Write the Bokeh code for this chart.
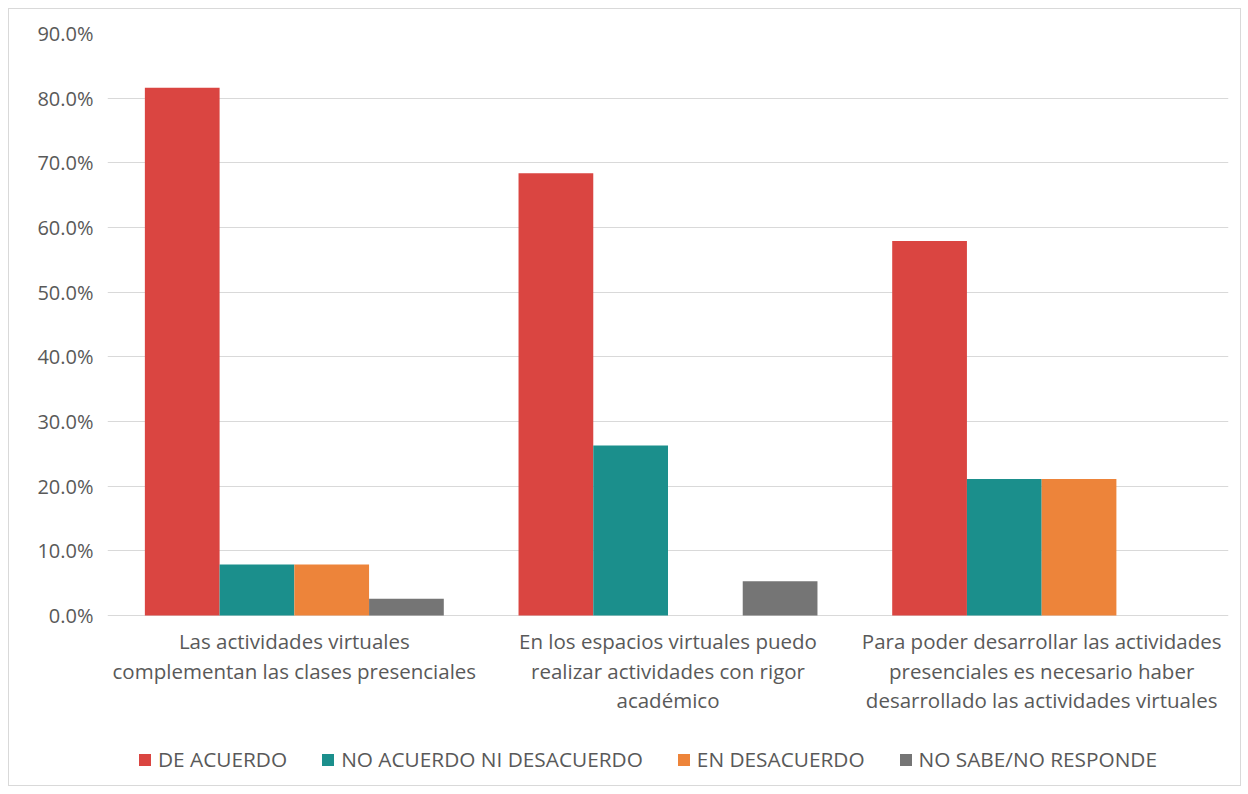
from bokeh.plotting import figure
from bokeh.models import ColumnDataSource, FixedTicker, NumeralTickFormatter, Legend, Range1d
from bokeh.core.properties import value
from bokeh.embed import file_html
from bokeh.resources import INLINE

categories = [
    "Las actividades virtuales\ncomplementan las clases presenciales",
    "En los espacios virtuales puedo\nrealizar actividades con rigor\nacadémico",
    "Para poder desarrollar las actividades\npresenciales es necesario haber\ndesarrollado las actividades virtuales",
]
series = ["DE ACUERDO", "NO ACUERDO NI DESACUERDO", "EN DESACUERDO", "NO SABE/NO RESPONDE"]
de_acuerdo = [0.816, 0.684, 0.579]
ni_acuerdo = [0.079, 0.263, 0.211]
desacuerdo = [0.079, 0.0, 0.211]
no_sabe = [0.026, 0.053, 0.0]
colors = ["#DA4541", "#1B8F8C", "#ED843A", "#757575"]
y_ticks = [0, 0.1, 0.2, 0.3, 0.4, 0.5, 0.6, 0.7, 0.8, 0.9]

FONT = "Open Sans"
TXT = "#595959"

# frame extends below the value axis so category labels and legend live inside it
p = figure(frame_width=1121, frame_height=752, output_backend="svg", toolbar_location=None,
           x_range=Range1d(0, 3), y_range=Range1d(-0.2629, 0.9),
           min_border_left=98, min_border_right=12, min_border_top=24, min_border_bottom=0,
           background_fill_color="white", border_fill_color="white", outline_line_color=None)
p.margin = (8, 8, 8, 8)
p.styles = {"border": "1px solid #d9d9d9"}

all_vals = [de_acuerdo, ni_acuerdo, desacuerdo, no_sabe]
offsets = [-0.3, -0.1, 0.1, 0.3]
items = []
for name, vals, col, off in zip(series, all_vals, colors, offsets):
    src = ColumnDataSource(dict(x=[i + 0.5 + off for i in range(len(categories))], top=vals))
    r = p.vbar(x="x", top="top", width=0.2, source=src, fill_color=col, line_color=None)
    items.append((name, [r]))

p.xgrid.visible = False
p.ygrid.grid_line_color = "#d9d9d9"
p.ygrid.grid_line_width = 1
p.yaxis.ticker = FixedTicker(ticks=y_ticks)
p.yaxis.formatter = NumeralTickFormatter(format="0.0%")
p.yaxis.axis_line_color = None
p.yaxis.major_tick_line_color = None
p.yaxis.minor_tick_line_color = None
p.yaxis.major_label_text_font = FONT
p.yaxis.major_label_text_font_size = "20px"
p.yaxis.major_label_text_color = TXT
p.yaxis.major_label_standoff = 8
p.xaxis.visible = False

lab_src = ColumnDataSource(dict(x=[i + 0.5 for i in range(len(categories))],
                                y=[-0.018] * len(categories), text=categories))
p.text(x="x", y="y", text="text", source=lab_src, text_font=value(FONT),
       text_font_size="20.5px", text_color=TXT, text_align="center",
       text_baseline="top", text_line_height=1.06)

legend = Legend(items=items, orientation="horizontal", location=(30, 12),
                label_text_font=FONT, label_text_font_size="20.8px", label_text_color=TXT,
                glyph_width=15, glyph_height=15, spacing=33, border_line_color=None,
                background_fill_alpha=0, margin=0, padding=0, label_standoff=6)
p.add_layout(legend, "center")

open("out.html", "w").write(file_html(p, INLINE))
